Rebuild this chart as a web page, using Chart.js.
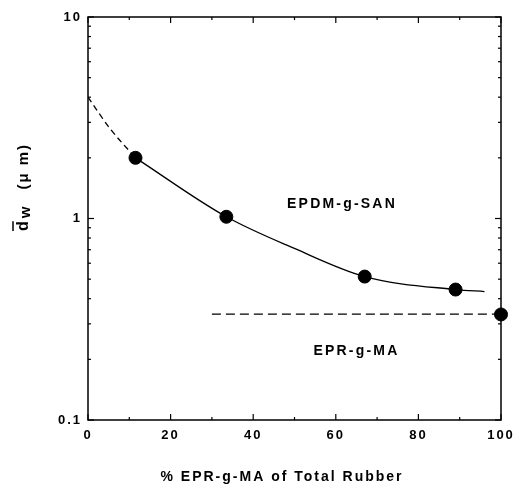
<!DOCTYPE html>
<html><head><meta charset="utf-8">
<script src="https://cdn.jsdelivr.net/npm/chart.js@4"></script>
<style>html,body{margin:0;padding:0;background:#fff}#wrap{width:518px;height:484px}</style>
</head><body><div id="wrap"><canvas id="c" width="518" height="484"></canvas></div>
<script>
// Data
const pointX = [11.5, 33.5, 67, 89, 100];
const pointY = [2.0, 1.02, 0.515, 0.444, 0.334];
const dashX = [0, 5.3, 11.5];
const dashY = [4.0, 2.8, 2.0];
const solidX = [11.5, 33.5, 50, 67, 89, 96];
const solidY = [2.0, 1.02, 0.71, 0.515, 0.444, 0.434];
const eprLineX = [30, 100];
const eprLineY = [0.335, 0.335];
const xTicks = [0, 20, 40, 60, 80, 100];
const xMinor = [10, 30, 50, 70, 90];
const yTicks = [0.1, 1, 10];
const labels = [
  {text: 'EPDM-g-SAN', x: 61.5, y: 1.18},
  {text: 'EPR-g-MA', x: 65, y: 0.219}
];
const xTitle = '% EPR-g-MA of Total Rubber';

const toXY = (xs, ys) => xs.map((x, i) => ({x: x, y: ys[i]}));
const FONT = '"Liberation Sans", Arial, sans-serif';

const decor = {
  id: 'decor',
  beforeDraw(chart) {
    chart.ctx.letterSpacing = '2px';
  },
  afterDraw(chart) {
    const ctx = chart.ctx, xs = chart.scales.x, ys = chart.scales.y, a = chart.chartArea;
    ctx.save();
    ctx.strokeStyle = '#000';
    ctx.lineWidth = 1.5;
    ctx.strokeRect(a.left, a.top, a.right - a.left, a.bottom - a.top);
    const tick = (x1, y1, x2, y2) => { ctx.beginPath(); ctx.moveTo(x1, y1); ctx.lineTo(x2, y2); ctx.stroke(); };
    ctx.lineWidth = 1.2;
    xTicks.forEach(v => { const p = xs.getPixelForValue(v); tick(p, a.bottom, p, a.bottom - 6); tick(p, a.top, p, a.top + 6); });
    xMinor.forEach(v => { const p = xs.getPixelForValue(v); tick(p, a.bottom, p, a.bottom - 3); tick(p, a.top, p, a.top + 3); });
    yTicks.forEach(v => { const p = ys.getPixelForValue(v); tick(a.left, p, a.left + 6, p); tick(a.right, p, a.right - 6, p); });
    [0.1, 1].forEach(d => { for (let k = 2; k <= 9; k++) { const p = ys.getPixelForValue(d * k); tick(a.left, p, a.left + 3, p); tick(a.right, p, a.right - 3, p); } });
    ctx.fillStyle = '#000';
    ctx.font = 'bold 14px ' + FONT;
    ctx.textAlign = 'left'; ctx.textBaseline = 'middle';
    ctx.letterSpacing = '2.2px';
    labels.forEach(l => {
      const w = ctx.measureText(l.text).width;
      ctx.fillText(l.text, xs.getPixelForValue(l.x) - w / 2, ys.getPixelForValue(l.y));
    });
    // x title
    ctx.font = 'bold 14px ' + FONT;
    ctx.letterSpacing = '2px';
    const tw = ctx.measureText(xTitle).width;
    ctx.fillText(xTitle, 282 - tw / 2, 477);
    // y title: d-bar w (μ m), rotated
    ctx.translate(24, 231);
    ctx.rotate(-Math.PI / 2);
    ctx.letterSpacing = '0px';
    ctx.font = 'bold 16px ' + FONT;
    ctx.fillText('d', 0, 0);
    const dw = ctx.measureText('d').width;
    ctx.lineWidth = 1.5;
    ctx.beginPath(); ctx.moveTo(0, -11); ctx.lineTo(dw, -11); ctx.stroke();
    ctx.font = 'bold 15px ' + FONT;
    ctx.fillText('w', dw + 3, 2);
    const ww = ctx.measureText('w').width;
    ctx.font = 'bold 15px ' + FONT;
    ctx.letterSpacing = '2px';
    ctx.fillText('(μ m)', dw + ww + 20, 0);
    ctx.restore();
  }
};

new Chart(document.getElementById('c'), {
  type: 'scatter',
  data: {
    datasets: [
      {data: toXY(dashX, dashY), showLine: true, borderColor: '#000', borderWidth: 1.3, borderDash: [6, 4], pointRadius: 0, cubicInterpolationMode: 'monotone', fill: false},
      {data: toXY(solidX, solidY), showLine: true, borderColor: '#000', borderWidth: 1.3, pointRadius: 0, cubicInterpolationMode: 'monotone', fill: false},
      {data: toXY(eprLineX, eprLineY), showLine: true, borderColor: '#000', borderWidth: 1.3, borderDash: [9, 5], pointRadius: 0, fill: false},
      {data: toXY(pointX, pointY), showLine: false, pointRadius: 6.5, pointBackgroundColor: '#000', pointBorderColor: '#000', clip: false}
    ]
  },
  options: {
    responsive: false, animation: false,
    layout: {padding: {left: 0, right: 17, top: 17, bottom: 0}},
    plugins: {legend: {display: false}, tooltip: {enabled: false}},
    scales: {
      x: {
        type: 'linear', min: 0, max: 100,
        afterFit: s => { s.height = 64; s.paddingLeft = 0; s.paddingRight = 0; },
        afterBuildTicks: s => { s.ticks = xTicks.map(v => ({value: v})); },
        grid: {display: false, drawTicks: false},
        border: {display: false},
        ticks: {color: '#000', font: {family: FONT, size: 13, weight: 'bold'}, padding: 8, maxRotation: 0, callback: v => String(v)},
        title: {display: false}
      },
      y: {
        type: 'logarithmic', min: 0.1, max: 10,
        afterFit: s => { s.width = 88; s.paddingTop = 0; s.paddingBottom = 0; },
        afterBuildTicks: s => { s.ticks = yTicks.map(v => ({value: v})); },
        grid: {display: false, drawTicks: false},
        border: {display: false},
        ticks: {color: '#000', font: {family: FONT, size: 13, weight: 'bold'}, padding: 6, callback: v => String(v)}
      }
    }
  },
  plugins: [decor]
});
</script></body></html>
